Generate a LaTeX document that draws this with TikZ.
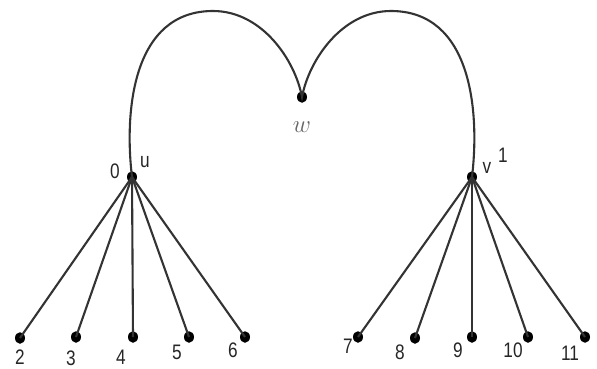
\documentclass[tikz,border=0pt]{standalone}
\usepackage{fontspec}
\setmainfont{Liberation Sans}
\newfontfamily\labfont[FakeStretch=0.82]{Liberation Sans}
\usetikzlibrary{shapes.geometric}
\tikzset{
  dot/.style={fill=black,ellipse,inner sep=0pt,minimum width=10pt,minimum height=11.5pt},
  edge/.style={draw=black!80,line width=2.1pt},
  lab/.style={inner sep=0pt,font=\labfont\fontsize{21}{21}\selectfont,text=black!85}
}
\begin{document}
\begin{tikzpicture}[x=1pt,y=-1pt]
\useasboundingbox (0,0) rectangle (597,369);
\node[dot] (u) at (132,177) {};
\node[dot] (v) at (472,177) {};
\node[dot] (w) at (302,97) {};
\coordinate (tl) at (213,11);
\coordinate (tr) at (391,11);
\foreach \n/\x/\y in {2/20/338,3/76/337,4/133/337,5/189/337,6/245/337}{
  \node[dot] (l\n) at (\x,\y) {};
  \draw[edge] (u.center) -- (l\n.center);
}
\foreach \n/\x/\y in {7/358/337,8/415/338,9/472/337,10/528/337,11/585/337}{
  \node[dot] (l\n) at (\x,\y) {};
  \draw[edge] (v.center) -- (l\n.center);
}
\draw[edge] (u.center) .. controls (124,110) and (133,11) .. (tl)
  .. controls (262,11) and (295,60) .. (w.center)
  .. controls (309,60) and (342,11) .. (tr)
  .. controls (471,11) and (480,110) .. (v.center);
\node[lab] (t0) at (115,171) {0};
\node[lab] (tu) at (145,162) {u};
\node[lab] (tv) at (487,168) {v};
\node[lab] (t1) at (503,155) {1};
\node[inner sep=0pt,font=\fontsize{26}{26}\selectfont,text=black!60] (tw) at (302,127) {$w$};
\foreach \n/\x/\y in {2/20/357,3/71/358,4/121/357,5/177/352,6/233/350,7/348/346,8/400/352,9/458/350,10/513/350,11/570/353}{
  \node[lab] (t\n) at (\x,\y) {\n};
}
\end{tikzpicture}
\end{document}
